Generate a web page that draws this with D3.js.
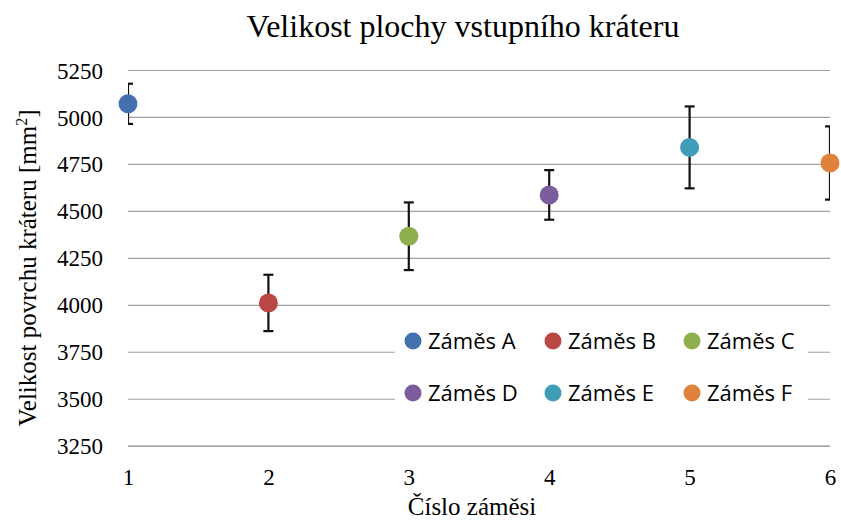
<!DOCTYPE html>
<html>
<head>
<meta charset="utf-8">
<script src="https://cdn.jsdelivr.net/npm/d3@7/dist/d3.min.js"></script>
<style>
  html, body { margin: 0; padding: 0; background: #fff; }
  svg { display: block; }
</style>
</head>
<body>
<svg id="chart" width="841" height="525"></svg>
<script>
// Mix data: mix number, mean crater area, error (±)
const mixes = [1, 2, 3, 4, 5, 6];
const names = ["Záměs A", "Záměs B", "Záměs C", "Záměs D", "Záměs E", "Záměs F"];
const means = [5070, 4010, 4365, 4585, 4838, 4755];
const errors = [107, 150, 180, 132, 218, 195];
const colors = ["#4371AF", "#BA4744", "#8FAF4F", "#7B5C9C", "#3F9DB8", "#E0823B"];
const yTicks = [3250, 3500, 3750, 4000, 4250, 4500, 4750, 5000, 5250];
const xTicks = [1, 2, 3, 4, 5, 6];

const svg = d3.select("#chart");
const serif = "'Liberation Serif', 'Times New Roman', serif";
const sans = "'Open Sans', 'Liberation Sans', sans-serif";

const plot = { left: 128, right: 830, top: 70, bottom: 445.7 };
const x = d3.scaleLinear().domain([1, 6]).range([plot.left, plot.right]);
const y = d3.scaleLinear().domain([3250, 5250]).range([plot.bottom, plot.top]);

// Title
svg.append("text")
  .attr("x", 463).attr("y", 37)
  .attr("text-anchor", "middle")
  .style("font-family", serif).style("font-size", "32px")
  .text("Velikost plochy vstupního kráteru");

// Gridlines
const grid = svg.append("g")
  .attr("transform", `translate(${plot.left},0)`)
  .call(d3.axisLeft(y).tickValues(yTicks).tickSize(-(plot.right - plot.left)).tickFormat(""));
grid.select(".domain").remove();
grid.selectAll(".tick line").attr("stroke", "#a0a0a0").attr("stroke-width", 1.2);
grid.selectAll(".tick").filter(d => d === 3250).select("line").attr("stroke", "#858585");

// Y tick labels
const yAxis = svg.append("g")
  .attr("transform", `translate(${plot.left - 25},0)`)
  .call(d3.axisLeft(y).tickValues(yTicks).tickSize(0).tickFormat(d3.format("d")));
yAxis.select(".domain").remove();
yAxis.selectAll("text")
  .style("font-family", serif).style("font-size", "23px").attr("fill", "#000")
  .attr("x", 0).attr("dy", "0.35em");

// X tick labels
const xAxis = svg.append("g")
  .attr("transform", `translate(0,${plot.bottom})`)
  .call(d3.axisBottom(x).tickValues(xTicks).tickSize(0).tickFormat(d3.format("d")));
xAxis.select(".domain").remove();
xAxis.selectAll("text")
  .style("font-family", serif).style("font-size", "23px").attr("fill", "#000")
  .attr("y", 23).attr("dy", "0.71em");

// Axis titles
svg.append("text")
  .attr("x", 472).attr("y", 515)
  .attr("text-anchor", "middle")
  .style("font-family", serif).style("font-size", "25px")
  .text("Číslo záměsi");

const yTitle = svg.append("text")
  .attr("transform", "translate(36,268) rotate(-90)")
  .attr("text-anchor", "middle")
  .style("font-family", serif).style("font-size", "25px");
yTitle.append("tspan").text("Velikost povrchu kráteru [mm");
yTitle.append("tspan").attr("dy", "-9").style("font-size", "16px").text("2");
yTitle.append("tspan").attr("dy", "9").text("]");

// Clip marks to the plot area
svg.append("clipPath").attr("id", "plotClip")
  .append("rect")
  .attr("x", plot.left).attr("y", 0)
  .attr("width", plot.right - plot.left).attr("height", 525);

const rows = mixes.map((m, i) => ({ m, name: names[i], mean: means[i], err: errors[i], color: colors[i] }));
const marks = svg.append("g").attr("clip-path", "url(#plotClip)");

// Error bars
const capW = 5;
const eb = marks.selectAll("g.err").data(rows).join("g").attr("class", "err")
  .attr("stroke", "#111").attr("stroke-width", 2.2).attr("fill", "none");
eb.append("line")
  .attr("x1", d => x(d.m)).attr("x2", d => x(d.m))
  .attr("y1", d => y(d.mean + d.err)).attr("y2", d => y(d.mean - d.err));
eb.append("line")
  .attr("x1", d => x(d.m) - capW).attr("x2", d => x(d.m) + capW)
  .attr("y1", d => y(d.mean + d.err)).attr("y2", d => y(d.mean + d.err));
eb.append("line")
  .attr("x1", d => x(d.m) - capW).attr("x2", d => x(d.m) + capW)
  .attr("y1", d => y(d.mean - d.err)).attr("y2", d => y(d.mean - d.err));

// Points
svg.selectAll("circle.pt").data(rows).join("circle").attr("class", "pt")
  .attr("cx", d => x(d.m)).attr("cy", d => y(d.mean))
  .attr("r", 9.5).attr("fill", d => d.color);

// Legend
const legend = svg.append("g");
legend.append("rect")
  .attr("x", 395).attr("y", 322).attr("width", 413).attr("height", 98)
  .attr("fill", "#fff");
const colX = [413, 553, 692];
const rowY = [341, 393];
const li = legend.selectAll("g.item").data(rows).join("g").attr("class", "item")
  .attr("transform", (d, i) => `translate(${colX[i % 3]},${rowY[Math.floor(i / 3)]})`);
li.append("circle").attr("r", 8.5).attr("fill", d => d.color);
li.append("text")
  .attr("x", 15).attr("dy", "0.35em")
  .style("font-family", sans).style("font-size", "22px").attr("fill", "#000")
  .text(d => d.name);
</script>
</body>
</html>
